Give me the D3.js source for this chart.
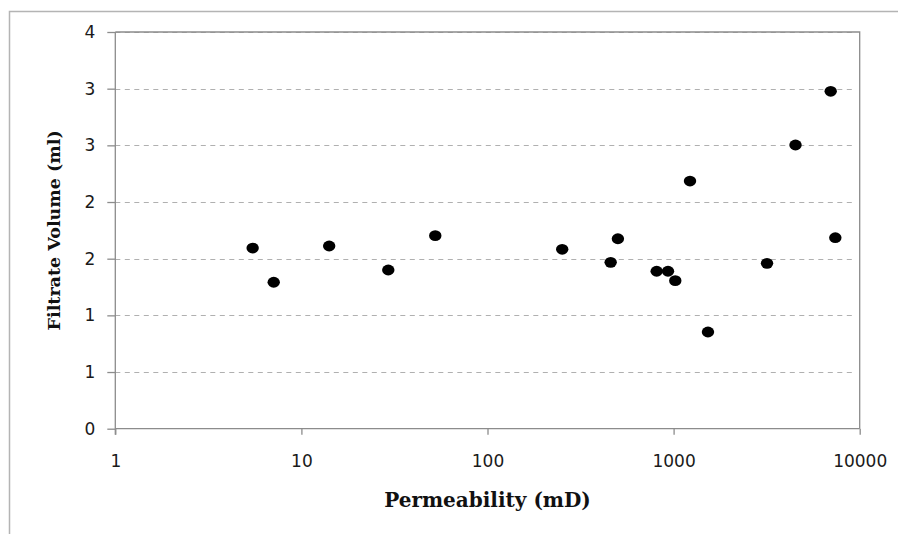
<!DOCTYPE html>
<html>
<head>
<meta charset="utf-8">
<script src="https://cdn.jsdelivr.net/npm/d3@7"></script>
<style>
  html, body { margin: 0; padding: 0; background: #fff; }
  svg { display: block; }
  .tick text { font-family: "DejaVu Sans", Verdana, sans-serif; fill: #1a1a1a; }
  .svg-label { font-family: "DejaVu Serif", "Book Antiqua", serif; font-weight: bold; fill: #111; }
</style>
</head>
<body>
<svg id="chart"></svg>
<script>
// permeability (mD) and filtrate volume (ml)
const permeability = [5.47, 7.1, 14.1, 29.3, 52.4, 252, 459, 502, 811, 933, 1021, 1225, 1530, 3177, 4519, 6985, 7396];
const filtrate = [1.594, 1.292, 1.612, 1.40, 1.703, 1.583, 1.468, 1.676, 1.389, 1.389, 1.306, 2.185, 0.853, 1.459, 2.503, 2.977, 1.685];

const xTicks = [1, 10, 100, 1000, 10000];
const yTicks = [0, 0.5, 1, 1.5, 2, 2.5, 3, 3.5];
const yTickLabels = ['0', '1', '1', '2', '2', '3', '3', '4']; // excel rounds the 0.5 steps

const c = {
  width: 898,
  height: 534,
  plot: { left: 115.3, right: 859.7, top: 32, bottom: 428.7 },
  fontSize1: 17,
  fontSize2: 20,
  fontSize3: 17.5,
};

const data = permeability.map((p, i) => ({ p, v: filtrate[i] }));

const svg = d3.select('#chart').attr('width', c.width).attr('height', c.height);

const x = d3.scaleLog([1, 10000], [c.plot.left, c.plot.right]);
const y = d3.scaleLinear([0, 3.5], [c.plot.bottom, c.plot.top]);

// outer frame (only left + top show in the crop)
svg.append('path')
  .attr('d', `M9.5,${c.height}V11.5H${c.width}`)
  .attr('fill', 'none')
  .attr('stroke', '#b4b4b4')
  .attr('stroke-width', 1.5);

// gridlines
svg.append('g')
  .selectAll('line')
  .data(yTicks.filter((d) => d > 0))
  .join('line')
  .attr('x1', c.plot.left)
  .attr('x2', c.plot.right - 4)
  .attr('y1', (d) => Math.round(y(d)) + 0.5)
  .attr('y2', (d) => Math.round(y(d)) + 0.5)
  .attr('stroke', '#b0b0b0')
  .attr('stroke-width', 1.2)
  .attr('stroke-dasharray', '5,4.5');

// plot border top/right
svg.append('path')
  .attr('d', `M${c.plot.left},${c.plot.top}H${c.plot.right}V${c.plot.bottom}`)
  .attr('fill', 'none')
  .attr('stroke', '#8c8c8c')
  .attr('stroke-width', 1.3);

// Y Axis
const yAxis = d3.axisLeft(y)
  .tickValues(yTicks)
  .tickSize(8)
  .tickPadding(12)
  .tickFormat((d, i) => yTickLabels[i]);

svg.append('g')
  .attr('transform', `translate(${c.plot.left},0)`)
  .call(yAxis)
  .call((g) => g.select('.domain').attr('d', `M0,${c.plot.top}V${c.plot.bottom + 6}`));

// X Axis
const xAxis = d3.axisBottom(x)
  .tickValues(xTicks)
  .tickSize(6)
  .tickPadding(20)
  .tickFormat(d3.format('d'));

svg.append('g')
  .attr('transform', `translate(0,${c.plot.bottom})`)
  .call(xAxis)
  .call((g) => g.select('.domain').attr('d', `M${c.plot.left},0H${c.plot.right}`));

svg.selectAll('.domain, .tick line').attr('stroke', '#8c8c8c').style('stroke-width', '1.3px');
svg.selectAll('.tick text').style('font-size', `${c.fontSize1}px`);

// points
svg.append('g')
  .selectAll('ellipse')
  .data(data)
  .join('ellipse')
  .attr('cx', (d) => x(d.p))
  .attr('cy', (d) => y(d.v))
  .attr('rx', 6.2)
  .attr('ry', 5.4)
  .attr('fill', '#000');

// axis titles
svg.append('text')
  .classed('svg-label', true)
  .attr('x', (c.plot.left + c.plot.right) / 2)
  .attr('y', 507)
  .attr('text-anchor', 'middle')
  .attr('font-size', c.fontSize2)
  .text('Permeability (mD)');

svg.append('text')
  .classed('svg-label', true)
  .attr('transform', `translate(60,${(c.plot.top + c.plot.bottom) / 2}) rotate(-90)`)
  .attr('text-anchor', 'middle')
  .attr('font-size', c.fontSize3)
  .text('Filtrate Volume (ml)');
</script>
</body>
</html>
